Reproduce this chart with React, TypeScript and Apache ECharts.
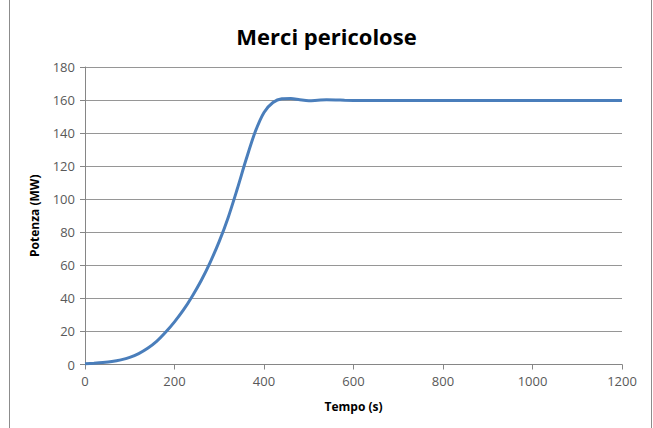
import React, { useEffect, useRef } from "react";
import * as echarts from "echarts";

const titleText = "Merci pericolose";
const xName = "Tempo (s)";
const yName = "Potenza (MW)";
const timeValues = [0, 20, 40, 60, 80, 100, 120, 140, 160, 180, 200, 220, 240, 260, 280, 300, 320, 340, 360, 380, 400, 420, 440, 460, 480, 500, 520, 540, 560, 580, 600, 650, 700, 800, 900, 1000, 1100, 1200];
const powerValues = [0.5, 0.8, 1.2, 1.8, 2.8, 4.3, 6.6, 9.8, 14, 19.5, 25.8, 33, 41.5, 51, 62, 74.5, 89, 106, 124, 140.5, 152.5, 158.5, 160.8, 161, 160.2, 159.6, 159.9, 160.2, 160.1, 159.9, 159.8, 159.8, 159.8, 159.8, 159.8, 159.8, 159.8, 159.8];

export default function App() {
  const ref = useRef<HTMLDivElement>(null);
  useEffect(() => {
    if (!ref.current) return;
    const chart = echarts.init(ref.current, null, { renderer: "svg" });
    const data = timeValues.map((t, i) => [t, powerValues[i]]);
    const font = "'Open Sans', sans-serif";
    chart.setOption({
      animation: false,
      backgroundColor: "#ffffff",
      title: {
        text: titleText,
        left: "center",
        top: 20,
        textStyle: { fontFamily: font, fontWeight: "bold", fontSize: 22, color: "#000" },
      },
      grid: { left: 85, right: 31, top: 67, bottom: 63.5 },
      xAxis: {
        type: "value",
        min: 0,
        max: 1200,
        interval: 200,
        name: xName,
        nameLocation: "middle",
        nameGap: 36,
        nameTextStyle: { fontFamily: font, fontWeight: "bold", fontSize: 12, color: "#000" },
        axisLine: { lineStyle: { color: "#868686" } },
        axisTick: { show: true, length: 5, lineStyle: { color: "#868686" } },
        axisLabel: { fontFamily: font, fontSize: 13, color: "#595959", margin: 10, formatter: (v: number) => String(v) },
        splitLine: { show: false },
      },
      yAxis: {
        type: "value",
        min: 0,
        max: 180,
        interval: 20,
        name: yName,
        nameLocation: "middle",
        nameGap: 45,
        nameTextStyle: { fontFamily: font, fontWeight: "bold", fontSize: 12, color: "#000" },
        axisLine: { show: true, lineStyle: { color: "#868686" } },
        axisTick: { show: true, length: 5, lineStyle: { color: "#868686" } },
        axisLabel: { fontFamily: font, fontSize: 13, color: "#595959", margin: 10 },
        splitLine: { show: true, lineStyle: { color: "#969696" } },
      },
      series: [
        {
          type: "line",
          data,
          smooth: 0.3,
          showSymbol: false,
          lineStyle: { color: "#4a7ebb", width: 3 },
        },
      ],
      graphic: [
        { type: "line", shape: { x1: 9.5, y1: 0, x2: 9.5, y2: 428 }, style: { stroke: "#8c8c8c", lineWidth: 1 } },
        { type: "line", shape: { x1: 651.5, y1: 0, x2: 651.5, y2: 428 }, style: { stroke: "#8c8c8c", lineWidth: 1 } },
      ],
    });
    return () => chart.dispose();
  }, []);
  return (
    <div
      ref={ref}
      style={{ position: "fixed", left: 0, top: 0, width: 653, height: 428 }}
    />
  );
}
